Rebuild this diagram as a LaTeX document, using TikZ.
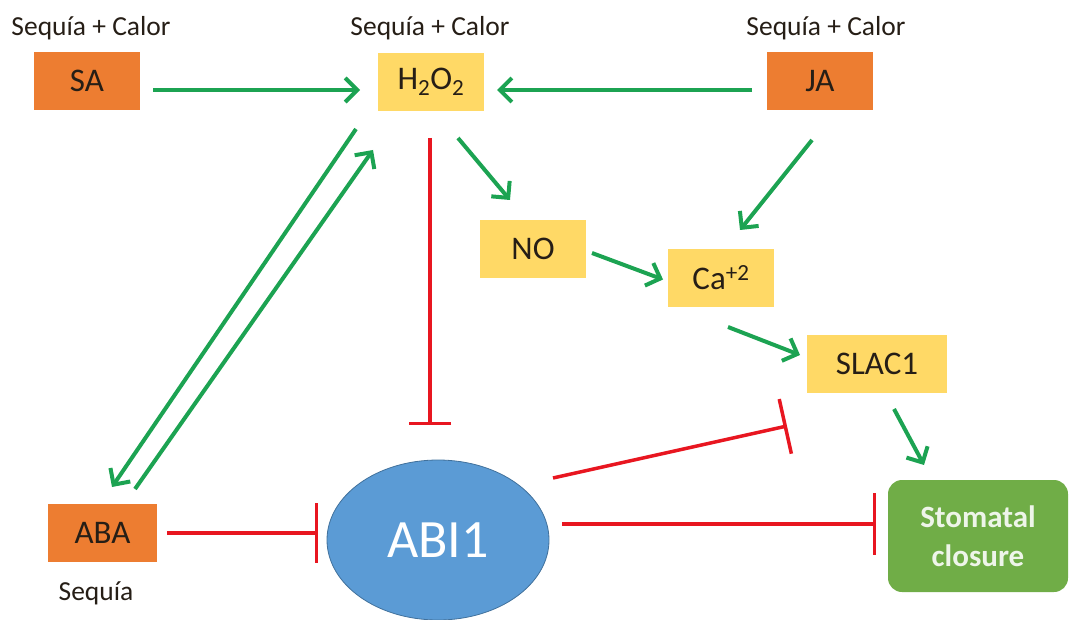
\documentclass[tikz,border=0pt]{standalone}
\usepackage{fontspec}
\setmainfont{Carlito}
\usetikzlibrary{arrows.meta,shapes.geometric}
\definecolor{c_orange}{RGB}{237,125,49}
\definecolor{c_yellow}{RGB}{255,217,102}
\definecolor{c_blue}{RGB}{91,155,213}
\definecolor{c_blueline}{RGB}{65,113,156}
\definecolor{c_green}{RGB}{112,173,71}
\definecolor{c_arrow}{RGB}{28,163,82}
\definecolor{c_red}{RGB}{232,22,32}
\definecolor{c_text}{RGB}{38,30,22}
\tikzstyle{box_orange} = [rectangle, fill=c_orange, minimum width=106pt, minimum height=58pt, inner sep=0pt, text=c_text, font=\fontsize{33}{36}\selectfont]
\tikzstyle{box_yellow} = [rectangle, fill=c_yellow, minimum width=106pt, minimum height=58pt, inner sep=0pt, text=c_text, font=\fontsize{33}{36}\selectfont]
\tikzstyle{node_abi} = [ellipse, fill=c_blue, draw=c_blueline, thick, minimum width=222pt, minimum height=160pt, inner sep=0pt, text=white, font=\fontsize{54}{58}\selectfont]
\tikzstyle{node_closure} = [rectangle, rounded corners=14pt, fill=c_green, minimum width=180pt, minimum height=112pt, align=center, text=white!88!c_green, font=\fontsize{31}{39}\selectfont\bfseries]
\tikzstyle{label_stress} = [text=c_text, font=\fontsize{27.5}{30}\selectfont]
\tikzstyle{edge_act} = [draw=c_arrow, line width=4pt, -{Straight Barb[length=12pt,width=24pt]}]
\tikzstyle{edge_inh} = [draw=c_red, line width=3.5pt]

\begin{document}
\begin{tikzpicture}[x=1pt,y=-1pt]
			\clip (0,0) rectangle (1075,620);
			\node (SA) at (87,81) [box_orange] {SA};
			\node (H2O2) at (431,82) [box_yellow] {H\textsubscript{2}O\textsubscript{2}};
			\node (JA) at (820,81) [box_orange] {JA};
			\node (NO) at (533,249) [box_yellow] {NO};
			\node (Ca) at (721,277.5) [box_yellow] {Ca\textsuperscript{+2}};
			\node (SLAC1) at (877,364) [box_yellow, minimum width=140pt] {SLAC1};
			\node (ABA) at (102.5,532.5) [box_orange, minimum width=109pt] {ABA};
			\node (ABI1) at (438,540) [node_abi] {ABI1};
			\node (Closure) at (978,536) [node_closure] {Stomatal\\closure};
			
			\node (stressSA) at (91,28) [label_stress] {Sequía + Calor};
			\node (stressH) at (430,28) [label_stress] {Sequía + Calor};
			\node (stressJA) at (826,28) [label_stress] {Sequía + Calor};
			\node (stressABA) at (96,593) [label_stress] {Sequía};
			
			\draw[edge_act] ([shift={(66,9)}]SA.center) -- ([shift={(-71,8)}]H2O2.center);
			\draw[edge_act] ([shift={(-68,9)}]JA.center) -- ([shift={(66,8)}]H2O2.center);
			\draw[edge_act] ([shift={(27,56)}]H2O2.center) -- ([shift={(-23,-49)}]NO.center);
			\draw[edge_act] ([shift={(-8,59)}]JA.center) -- ([shift={(19,-47.5)}]Ca.center);
			\draw[edge_act] ([shift={(59,4)}]NO.center) -- ([shift={(-58,2)}]Ca.center);
			\draw[edge_act] ([shift={(7,49.5)}]Ca.center) -- ([shift={(-77,-9)}]SLAC1.center);
			\draw[edge_act] ([shift={(17,45)}]SLAC1.center) -- ([shift={(-54,-71)}]Closure.center);
			\draw[edge_act] ([shift={(-75,47)}]H2O2.center) -- ([shift={(9.5,-45.5)}]ABA.center);
			\draw[edge_act] ([shift={(32.5,-43.5)}]ABA.center) -- ([shift={(-58,68)}]H2O2.center);
			
			\draw[edge_inh, -{Bar[width=42pt]}] ([shift={(-1,56)}]H2O2.center) -- ([shift={(-8,-115)}]ABI1.center);
			\draw[edge_inh, -{Bar[width=60pt]}] ([shift={(64.5,0.5)}]ABA.center) -- ([shift={(-120,-7)}]ABI1.center);
			\draw[edge_inh, -{Bar[width=56pt]}] ([shift={(115,-62)}]ABI1.center) -- ([shift={(-90,62)}]SLAC1.center);
			\draw[edge_inh, -{Bar[width=62pt]}] ([shift={(124,-16)}]ABI1.center) -- ([shift={(-102,-12)}]Closure.center);
		\end{tikzpicture}
\end{document}
